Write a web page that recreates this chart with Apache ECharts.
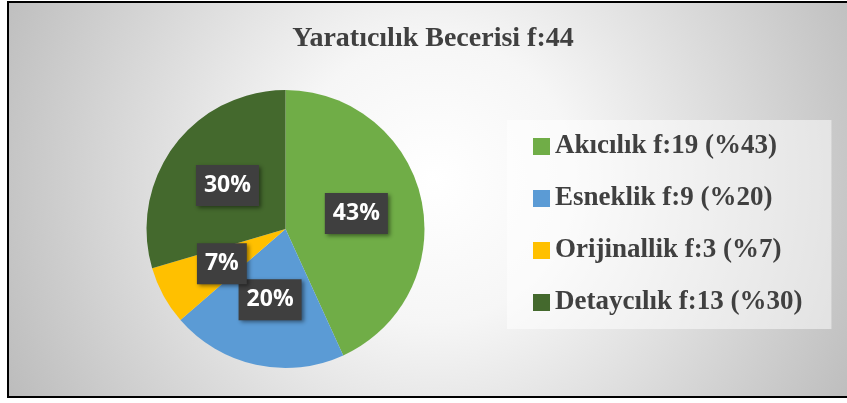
<!DOCTYPE html>
<html><head><meta charset="utf-8">
<script src="https://cdn.jsdelivr.net/npm/echarts@6/dist/echarts.min.js"></script>
<style>
html,body{margin:0;padding:0;background:#fff;overflow:hidden;width:847px;height:403px}
#c{position:absolute;left:7px;top:1px;width:850px;height:393px;border:2px solid #000;border-right:none}
</style></head><body>
<div id="c"></div>
<script>
const titleText = 'Yaratıcılık Becerisi f:44';
const categories = ['Akıcılık f:19 (%43)', 'Esneklik f:9 (%20)', 'Orijinallik f:3 (%7)', 'Detaycılık f:13 (%30)'];
const values = [19, 9, 3, 13];
const colors = ['#70AD47', '#5B9BD5', '#FFC000', '#44692D'];

const chart = echarts.init(document.getElementById('c'), null, {renderer: 'canvas'});
chart.setOption({
  backgroundColor: {
    type: 'radial', x: 0.5, y: 0.45, r: 1.2,
    colorStops: [
      {offset: 0, color: '#ffffff'},
      {offset: 0.3, color: '#f6f6f6'},
      {offset: 1, color: '#bdbdbd'}
    ]
  },
  animation: false,
  title: {
    text: titleText,
    left: 419, textAlign: 'center',
    top: 17,
    textStyle: {fontFamily: 'Liberation Serif', fontWeight: 'bold', fontSize: 28, color: '#404040'}
  },
  legend: {
    orient: 'vertical',
    left: 498, top: 117,
    padding: [13, 29, 13, 26],
    backgroundColor: 'rgba(255,255,255,0.5)',
    itemWidth: 17, itemHeight: 17, itemGap: 25, itemTextGap: 8,
    icon: 'rect',
    data: categories,
    textStyle: {fontFamily: 'Liberation Serif', fontWeight: 'bold', fontSize: 27, color: '#404040', lineHeight: 26}
  },
  series: [{
    type: 'pie',
    center: [276.5, 226],
    radius: 139,
    startAngle: 90,
    clockwise: true,
    avoidLabelOverlap: false,
    percentPrecision: 0,
    data: categories.map((n, i) => ({name: n, value: values[i], itemStyle: {color: colors[i]}})),
    label: {
      show: true,
      position: 'inside',
      formatter: '{d}%',
      color: '#fff',
      fontFamily: 'Open Sans',
      fontWeight: 'bold',
      fontSize: 23,
      lineHeight: 25,
      backgroundColor: '#3f3f3f',
      padding: [8, 8, 8, 8],
      shadowColor: 'rgba(0,0,0,0.45)',
      shadowBlur: 4, shadowOffsetX: 2, shadowOffsetY: 2
    },
    labelLayout: {hideOverlap: false},
    labelLine: {show: false},
    emphasis: {disabled: true}
  }]
});
</script>
</body></html>
